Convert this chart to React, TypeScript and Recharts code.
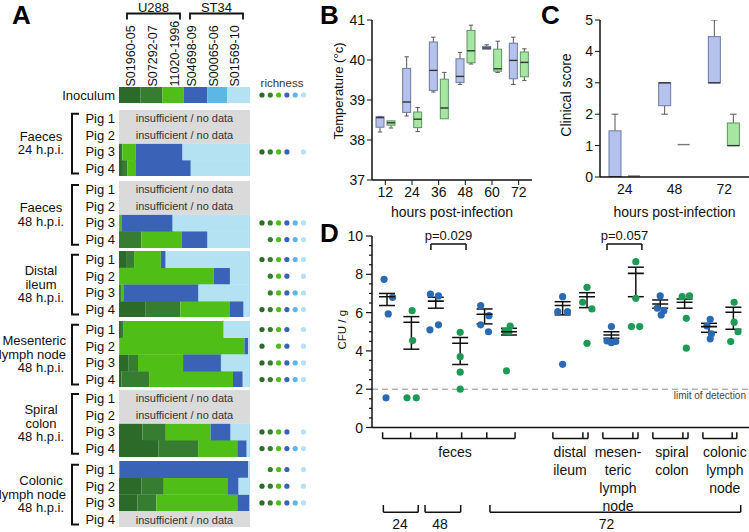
import React from 'react';
import {
  BarChart, Bar, XAxis, YAxis, ComposedChart, Scatter, ErrorBar,
  ReferenceLine, ReferenceDot, Label,
} from 'recharts';

const FONT = '"Liberation Sans", Arial, Helvetica, sans-serif';
const INK = '#111';

// ---------------- Panel A data ----------------
const strains = ['S01960-05', 'S07292-07', '11020-1996', 'S04698-09', 'S00065-06', 'S01569-10'];
const strainColors = ['#2c6a2a', '#367d32', '#4fbe17', '#3a63b7', '#5bb7e4', '#b4e2f2'];
const lineages = ['U288', 'ST34'];
const pigs = ['Pig 1', 'Pig 2', 'Pig 3', 'Pig 4'];
const noDataText = 'insufficient / no data';
const richnessTitle = 'richness';

const inoculumShares = [16.5, 16.5, 16.5, 17.8, 15.3, 17.4];
const inoculumRichness = [1, 1, 1, 1, 1, 1];

const sectionTitles = [
  ['Faeces', '24 h.p.i.'],
  ['Faeces', '48 h.p.i.'],
  ['Distal', 'ileum', '48 h.p.i.'],
  ['Mesenteric', 'lymph node', '48 h.p.i.'],
  ['Spiral', 'colon', '48 h.p.i.'],
  ['Colonic', 'lymph node', '48 h.p.i.'],
];

const faeces24Shares = [null, null, [1.5, 1.1, 10.2, 35.7, 0, 51.5], [3, 3.4, 6.1, 42.3, 0, 45.2]];
const faeces24Richness = [null, null, [1, 1, 1, 1, 0, 1], null];
const faeces48Shares = [null, null, [0.3, 0.3, 1.2, 39, 0.5, 58.7], [0, 17.1, 30.6, 19.6, 0.5, 32.2]];
const faeces48Richness = [null, null, [1, 1, 1, 1, 1, 1], [0, 1, 1, 1, 1, 1]];
const ileumShares = [[6, 5.5, 20.4, 3.6, 0.5, 64], [0, 0.5, 71.9, 12.3, 0, 15.3], [0, 1.5, 2.3, 56.6, 0.5, 39.1], [20, 26.9, 37.8, 10.2, 0.5, 4.6]];
const ileumRichness = [[1, 1, 1, 1, 1, 1], [0, 1, 1, 1, 0, 1], [0, 1, 1, 1, 1, 1], [1, 1, 1, 1, 1, 1]];
const mlnShares = [[1.5, 1.6, 76.5, 0.3, 0, 20.1], [0.3, 0, 95.4, 3.0, 0, 1.3], [7, 7.5, 34.4, 28.9, 0.5, 21.7], [2, 21, 64, 7.4, 0.5, 5.1]];
const mlnRichness = [[1, 1, 1, 1, 0, 1], [1, 0, 1, 1, 0, 1], [1, 1, 1, 1, 1, 1], [1, 1, 1, 1, 1, 1]];
const colonShares = [null, null, [18, 17.7, 34.2, 15.3, 0, 14.8], [30, 30.4, 29.9, 7.1, 0.5, 2.1]];
const colonRichness = [null, null, [1, 1, 1, 1, 0, 1], [1, 1, 1, 1, 1, 1]];
const clnShares = [[0, 0.2, 0.2, 98.3, 0, 1.3], [17, 17.2, 48.5, 8.6, 0, 8.7], [14, 14.6, 61.7, 9.2, 0.3, 0.2], null];
const clnRichness = [[0, 1, 1, 1, 0, 1], [1, 1, 1, 1, 0, 1], [1, 1, 1, 1, 1, 1], null];

const sectionShares = [faeces24Shares, faeces48Shares, ileumShares, mlnShares, colonShares, clnShares];
const sectionRichness = [faeces24Richness, faeces48Richness, ileumRichness, mlnRichness, colonRichness, clnRichness];

// ---------------- Panel B / C data ----------------
const tempHours = ['12', '24', '36', '48', '60', '72'];
// five-number summaries: [min, q1, median, q3, max]
const tempGroupA = [
  [38.2, 38.32, 38.56, 38.58, 38.59],
  [38.6, 38.69, 38.95, 39.79, 40.08],
  [39.2, 39.24, 39.74, 40.45, 40.57],
  [39.39, 39.44, 39.59, 40.03, 40.19],
  [40.27, 40.27, 40.3, 40.34, 40.38],
  [39.39, 39.53, 39.99, 40.42, 40.57],
];
const tempGroupB = [
  [38.3, 38.37, 38.43, 38.48, 38.48],
  [38.21, 38.31, 38.52, 38.7, 38.81],
  [38.53, 38.53, 38.8, 39.52, 39.69],
  [39.9, 39.93, 40.23, 40.74, 40.87],
  [39.69, 39.72, 39.78, 40.27, 40.47],
  [39.49, 39.58, 39.94, 40.2, 40.28],
];
const tempTicks = [37, 38, 39, 40, 41];

const scoreHours = ['24', '48', '72'];
const scoreGroupA = [
  [0, 0, 0, 1.47, 2],
  [2, 2.27, 3, 3, 3],
  [3, 3, 3, 4.47, 5],
];
const scoreGroupB = [
  [0, 0, 0, 0, 0],
  [1, 1, 1, 1, 1],
  [1, 1, 1, 1.72, 2],
];
const scoreTicks = [0, 1, 2, 3, 4, 5];

// ---------------- Panel D data ----------------
const cfuGroupPos = [1, 2, 3, 4, 5, 6, 8.2, 9.2, 10.2, 11.2, 12.2, 13.2, 14.2, 15.2];
const cfuValues = [
  [7.74, 6.8, 5.93, 1.55],
  [6.1, 4.54, 1.55, 1.55],
  [6.96, 6.87, 5.36, 5.1],
  [4.97, 3.7, 2.89, 2.0],
  [6.37, 5.84, 5.36, 5.0],
  [5.3, 5.04, 5.0, 2.96],
  [6.83, 6.05, 6.05, 3.3],
  [7.32, 6.54, 6.19, 4.4],
  [5.27, 4.52, 4.43, 4.49],
  [8.66, 6.75, 5.27, 5.27],
  [6.87, 6.23, 6.1, 5.88],
  [6.83, 6.87, 5.7, 4.14],
  [5.65, 5.3, 4.89, 4.63],
  [6.54, 5.5, 5.0, 4.49],
];
const cfuJitter = [
  [-0.12, 0.23, 0.05, -0.04],
  [0.03, 0.05, -0.18, 0.2],
  [-0.22, 0.11, 0.11, -0.24],
  [0, 0, 0, 0],
  [-0.16, 0.18, -0.16, 0.16],
  [0.05, -0.17, 0.0, -0.1],
  [0, -0.2, 0.2, 0],
  [0, -0.18, 0.2, 0],
  [0, -0.18, 0, 0.18],
  [0, 0, -0.18, 0.16],
  [0, -0.12, 0.15, 0.04],
  [-0.1, 0.2, 0.07, 0.07],
  [0.05, -0.08, 0.1, 0.05],
  [0.03, 0.03, 0.19, -0.11],
];
const cfuMean = [6.83, 5.5, 6.6, 4.4, 5.91, 5.0, 6.37, 6.83, 4.83, 8.05, 6.45, 6.54, 5.27, 6.02];
const cfuSemLow = [6.37, 4.09, 6.23, 3.29, 5.41, 4.83, 5.88, 6.26, 4.66, 6.83, 6.23, 6.23, 4.97, 5.13];
const cfuSemHigh = [7.0, 5.79, 6.8, 4.7, 6.19, 5.18, 6.57, 7.04, 5.0, 8.37, 6.66, 6.71, 5.44, 6.28];
const cfuTicks = [0, 0.5, 1, 1.5, 2, 2.5, 3, 3.5, 4, 4.5, 5, 5.5, 6, 6.5, 7, 7.5, 8, 8.5, 9, 9.5, 10];
const detectionLimit = 2;

const pValues = [
  { from: 2.8, to: 4.24, text: 'p=0.029' },
  { from: 10.02, to: 11.45, text: 'p=0.057' },
];
const tissueBrackets = [
  { from: 0.82, to: 6.25, ticks: [1.97, 3.04, 4.06, 5.09] },
  { from: 7.8, to: 9.24, ticks: [9.03] },
  { from: 9.85, to: 11.29, ticks: [11.08] },
  { from: 11.9, to: 13.34, ticks: [13.13] },
  { from: 13.95, to: 15.34, ticks: [15.15] },
];
const tissueLabels = [
  { x: 3.79, lines: ['feces'] },
  { x: 8.5, lines: ['distal', 'ileum'] },
  { x: 10.47, lines: ['mesen-', 'teric', 'lymph', 'node'] },
  { x: 12.68, lines: ['spiral', 'colon'] },
  { x: 14.85, lines: ['colonic', 'lymph', 'node'] },
];
const timeBrackets = [
  { from: 0.85, to: 2.28, text: '24', at: 1.53 },
  { from: 2.56, to: 4.02, text: '48', at: 3.17 },
  { from: 5.22, to: 15.5, text: '72', at: 10.0 },
];

// ---------------- helpers ----------------
function buildRows(labels: string[], shares: any[], rich: any[]) {
  return labels.map((p, i) => {
    const s = shares[i];
    const r: any = { pig: p, nd: s ? 0 : 100, rich: rich[i] };
    strains.forEach((_, k) => { r['s' + k] = s ? s[k] : 0; });
    return r;
  });
}

function makeLastShape(rows: any[]) {
  return (props: any) => {
    const { x, y, width, height, index, fill } = props;
    const row = (props.payload && props.payload.pig) ? props.payload : rows[index];
    const rich = row ? row.rich : null;
    return (
      <g>
        {width > 0 && <rect x={x} y={y} width={width} height={height} fill={fill} />}
        {rich && rich.map((r: number, i: number) => (r ? (
          <circle key={i} cx={x + width + 12 + i * 8.3} cy={y + height / 2} r={2.6} fill={strainColors[i]} />
        ) : null))}
      </g>
    );
  };
}

const NdShape = (props: any) => {
  const { x, y, width, height } = props;
  if (!width) return <g />;
  return (
    <g>
      <rect x={x} y={y} width={width} height={height} fill="#dadada" />
      <text x={x + width / 2} y={y + height / 2} textAnchor="middle" dominantBaseline="central" fontSize={11} fill="#333">{noDataText}</text>
    </g>
  );
};

function CompositionChart({ rows, top, height }: { rows: any[]; top: number; height: number }) {
  const LastShape = makeLastShape(rows);
  return (
    <div style={{ position: 'absolute', left: 0, top, width: 320, height }}>
      <BarChart width={320} height={height} data={rows} layout="vertical"
        margin={{ top: 0, right: 70, bottom: 0, left: 0 }} barCategoryGap={0}>
        <XAxis type="number" domain={[0, 100]} hide />
        <YAxis type="category" dataKey="pig" width={119} axisLine={false} tickLine={false}
          tickSize={0} tickMargin={4} interval={0} tick={{ fontSize: 13, fill: INK }} />
        {strains.map((s, k) => (
          <Bar key={s} dataKey={'s' + k} stackId="a" fill={strainColors[k]} isAnimationActive={false}
            shape={k === strains.length - 1 ? LastShape : undefined} />
        ))}
        <Bar dataKey="nd" stackId="a" fill="#dadada" isAnimationActive={false} shape={NdShape} />
      </BarChart>
    </div>
  );
}

const sectionTops = [109.7, 181, 250.7, 320.7, 390, 460.7];
const sectionHeight = 66.8;

function PanelA() {
  const inoRows = buildRows(['Inoculum'], [inoculumShares], [inoculumRichness]);
  return (
    <>
      <CompositionChart rows={inoRows} top={87.3} height={16} />
      {sectionShares.map((sh, i) => (
        <CompositionChart key={i} rows={buildRows(pigs, sh, sectionRichness[i])} top={sectionTops[i]} height={sectionHeight} />
      ))}
    </>
  );
}

function makeBox(key: string, fill: string, stroke: string) {
  return (props: any) => {
    const { x, y, width, height, payload } = props;
    const [mn, q1, med, q3, mx] = payload[key];
    const span = mx - mn;
    const py = (v: number) => (span > 0 ? y + ((mx - v) / span) * height : y);
    const cx = x + width / 2;
    const cap = width * 0.55;
    const top = py(q3);
    const bot = py(q1);
    const wc = '#555';
    return (
      <g>
        {mx > q3 && <line x1={cx} x2={cx} y1={py(mx)} y2={top} stroke={wc} strokeWidth={1} />}
        {mx > q3 && <line x1={cx - cap / 2} x2={cx + cap / 2} y1={py(mx)} y2={py(mx)} stroke={wc} strokeWidth={1} />}
        {q1 > mn && <line x1={cx} x2={cx} y1={bot} y2={py(mn)} stroke={wc} strokeWidth={1} />}
        {q1 > mn && <line x1={cx - cap / 2} x2={cx + cap / 2} y1={py(mn)} y2={py(mn)} stroke={wc} strokeWidth={1} />}
        <rect x={x} y={top} width={width} height={Math.max(bot - top, 0)} fill={fill} stroke={stroke} strokeWidth={1} />
        <line x1={x} x2={x + width} y1={py(med) - (span > 0 ? 0 : 1)} y2={py(med) - (span > 0 ? 0 : 1)} stroke={span > 0 ? '#333' : '#777'} strokeWidth={1.4} />
      </g>
    );
  };
}

const BLUE_FILL = '#b5c2ec';
const BLUE_STROKE = '#6c78a6';
const GREEN_FILL = '#a6e6a2';
const GREEN_STROKE = '#5e955e';
const BoxA = makeBox('a', BLUE_FILL, BLUE_STROKE);
const BoxB = makeBox('b', GREEN_FILL, GREEN_STROKE);

const VerticalTitle = (p: any) => {
  const vb = p.viewBox || {};
  const cx = vb.x + vb.width / 2 + (p.ox || 0);
  const cy = vb.y + vb.height / 2 + (p.oy || 0);
  return (
    <text transform={`translate(${cx},${cy}) rotate(-90)`} textAnchor="middle" dominantBaseline="central"
      fontSize={p.size} fill={INK}>{p.text}</text>
  );
};

function PanelB() {
  const rows = tempHours.map((h, i) => ({ h, a: tempGroupA[i], b: tempGroupB[i] }));
  return (
    <div style={{ position: 'absolute', left: 300, top: 0 }}>
      <BarChart width={240} height={225} data={rows} margin={{ top: 20, right: 8, bottom: 0, left: 0 }} barSize={8} barGap={3}>
        <XAxis dataKey="h" height={45} tickSize={5} tickLine={{ stroke: INK }} axisLine={{ stroke: INK, strokeWidth: 1.5 }}
          tick={{ fontSize: 14, fill: INK }} interval={0}>
          <Label value="hours post-infection" position="insideBottom" offset={8} fontSize={14} fill={INK} />
        </XAxis>
        <YAxis width={72} domain={[37, 41]} allowDataOverflow ticks={tempTicks} tickSize={5} tickLine={{ stroke: INK }}
          axisLine={{ stroke: INK, strokeWidth: 1.5 }} tick={{ fontSize: 14, fill: INK }} interval={0}>
          <Label content={(p: any) => <VerticalTitle viewBox={p.viewBox} text="Temperature (°c)" size={13} ox={2} oy={-9} />} />
        </YAxis>
        <Bar dataKey={(d: any) => [d.a[0], d.a[4]]} shape={BoxA} isAnimationActive={false} />
        <Bar dataKey={(d: any) => [d.b[0], d.b[4]]} shape={BoxB} isAnimationActive={false} />
      </BarChart>
    </div>
  );
}

function PanelC() {
  const rows = scoreHours.map((h, i) => ({ h, a: scoreGroupA[i], b: scoreGroupB[i] }));
  return (
    <div style={{ position: 'absolute', left: 530, top: 0 }}>
      <BarChart width={219} height={225} data={rows} margin={{ top: 20, right: 0, bottom: 0, left: 0 }} barSize={12} barGap={7}>
        <XAxis dataKey="h" height={48} tickSize={5} tickLine={false} axisLine={{ stroke: INK, strokeWidth: 1.5 }}
          tick={{ fontSize: 14, fill: INK }} interval={0}>
          <Label value="hours post-infection" position="insideBottom" offset={8} fontSize={14} fill={INK} />
        </XAxis>
        <YAxis width={70} domain={[0, 5]} allowDataOverflow ticks={scoreTicks} tickSize={5} tickLine={{ stroke: INK }}
          axisLine={{ stroke: INK, strokeWidth: 1.5 }} tick={{ fontSize: 14, fill: INK }} interval={0}>
          <Label content={(p: any) => <VerticalTitle viewBox={p.viewBox} text="Clinical score" size={14} ox={1} oy={-3.5} />} />
        </YAxis>
        <Bar dataKey={(d: any) => [d.a[0], d.a[4]]} shape={BoxA} isAnimationActive={false} />
        <Bar dataKey={(d: any) => [d.b[0], d.b[4]]} shape={BoxB} isAnimationActive={false} />
      </BarChart>
    </div>
  );
}

const CfuTick = (props: any) => {
  const { x, y, payload } = props;
  const v = payload.value;
  const major = v % 2 === 0;
  return (
    <g>
      <line x1={x - (major ? 6 : 3)} x2={x} y1={y} y2={y} stroke={INK} strokeWidth={1.2} />
      {major && <text x={x - 9} y={y} textAnchor="end" dominantBaseline="central" fontSize={14} fill={INK}>{v}</text>}
    </g>
  );
};

const BLUE_DOT = '#2a6ab5';
const GREEN_DOT = '#1e9a56';
const dotShape = (color: string) => (p: any) => <circle cx={p.cx} cy={p.cy} r={3.6} fill={color} />;
const MeanShape = (p: any) => <line x1={p.cx - 8} x2={p.cx + 8} y1={p.cy} y2={p.cy} stroke={INK} strokeWidth={1.6} />;

const SEG = { stroke: INK, strokeWidth: 1.5, ifOverflow: 'visible' as const };

function PanelD() {
  const ptsA: any[] = [];
  const ptsB: any[] = [];
  cfuValues.forEach((vals, g) => vals.forEach((v, i) => {
    (g % 2 === 0 ? ptsA : ptsB).push({ x: cfuGroupPos[g] + cfuJitter[g][i], y: v });
  }));
  const means = cfuMean.map((m, g) => ({ x: cfuGroupPos[g], y: m, err: [m - cfuSemLow[g], cfuSemHigh[g] - m] }));

  const lines: any[] = [];
  let k = 0;
  pValues.forEach((p) => {
    lines.push(<ReferenceLine key={k++} segment={[{ x: p.from, y: 9.58 }, { x: p.to, y: 9.58 }]} {...SEG} />);
    lines.push(<ReferenceLine key={k++} segment={[{ x: p.from, y: 9.58 }, { x: p.from, y: 9.27 }]} {...SEG} />);
    lines.push(<ReferenceLine key={k++} segment={[{ x: p.to, y: 9.58 }, { x: p.to, y: 9.27 }]} {...SEG} />);
    lines.push(<ReferenceDot key={k++} x={(p.from + p.to) / 2} y={10.05} r={0} fill="none" stroke="none" ifOverflow="visible"
      label={{ value: p.text, position: 'center', fontSize: 13, fill: INK }} />);
  });
  tissueBrackets.forEach((b) => {
    lines.push(<ReferenceLine key={k++} segment={[{ x: b.from, y: -0.58 }, { x: b.to, y: -0.58 }]} {...SEG} />);
    [b.from, b.to, ...b.ticks].forEach((t) => {
      lines.push(<ReferenceLine key={k++} segment={[{ x: t, y: -0.25 }, { x: t, y: -0.58 }]} {...SEG} />);
    });
  });
  tissueLabels.forEach((t) => {
    const ys = [-1.28, -2.22, -3.16, -4.1];
    t.lines.forEach((ln, i) => {
      lines.push(<ReferenceDot key={k++} x={t.x} y={ys[i]} r={0} fill="none" stroke="none" ifOverflow="visible"
        label={{ value: ln, position: 'center', fontSize: 14, fill: INK }} />);
    });
  });
  timeBrackets.forEach((b) => {
    lines.push(<ReferenceLine key={k++} segment={[{ x: b.from, y: -4.42 }, { x: b.to, y: -4.42 }]} {...SEG} />);
    lines.push(<ReferenceLine key={k++} segment={[{ x: b.from, y: -4.05 }, { x: b.from, y: -4.42 }]} {...SEG} />);
    lines.push(<ReferenceLine key={k++} segment={[{ x: b.to, y: -4.05 }, { x: b.to, y: -4.42 }]} {...SEG} />);
    lines.push(<ReferenceDot key={k++} x={b.at} y={-5.02} r={0} fill="none" stroke="none" ifOverflow="visible"
      label={{ value: b.text, position: 'center', fontSize: 14, fill: INK }} />);
  });

  return (
    <div style={{ position: 'absolute', left: 300, top: 226 }}>
      <ComposedChart width={449} height={306} margin={{ top: 10, right: 0, bottom: 74.5, left: 0 }}>
        <XAxis type="number" dataKey="x" domain={[0.385, 15.84]} allowDataOverflow height={30} tick={false} tickLine={false}
          axisLine={{ stroke: INK, strokeWidth: 1.5 }} />
        <YAxis type="number" dataKey="y" width={72} domain={[0, 10]} allowDataOverflow ticks={cfuTicks} interval={0}
          tickSize={0} tickMargin={0} tickLine={false} tick={CfuTick} axisLine={{ stroke: INK, strokeWidth: 1.5 }}>
          <Label content={(p: any) => <VerticalTitle viewBox={p.viewBox} text="CFU / g" size={11.5} ox={6} oy={-2} />} />
        </YAxis>
        <ReferenceLine y={detectionLimit} stroke="#8c8c8c" strokeDasharray="6 4"
          label={{ value: 'limit of detection', position: 'insideTopRight', offset: 3, fontSize: 10, fill: '#444' }} />
        {lines}
        <Scatter data={ptsA} shape={dotShape(BLUE_DOT)} isAnimationActive={false} />
        <Scatter data={ptsB} shape={dotShape(GREEN_DOT)} isAnimationActive={false} />
        <Scatter data={means} shape={MeanShape} isAnimationActive={false}>
          <ErrorBar dataKey="err" direction="y" width={8} stroke={INK} strokeWidth={1.5} />
        </Scatter>
      </ComposedChart>
    </div>
  );
}

const columnLabelX = [131, 153, 175, 192, 213.5, 235];
const lineageSpans = [[127, 180], [190, 243]];

function Overlay() {
  return (
    <svg width={749} height={532} style={{ position: 'absolute', left: 0, top: 0, pointerEvents: 'none' }}>
      <g fontWeight="bold" fontSize={26} fill="#000">
        <text x={12} y={23.5}>A</text>
        <text x={320} y={23.5}>B</text>
        <text x={541} y={23.5}>C</text>
        <text x={320} y={242}>D</text>
      </g>
      {lineages.map((l, i) => {
        const [a, b] = lineageSpans[i];
        return (
          <g key={l}>
            <text x={(a + b) / 2} y={11.5} textAnchor="middle" fontSize={13} fill={INK}>{l}</text>
            <path d={`M${a},19.5 V13.5 H${b} V19.5`} stroke={INK} strokeWidth={1.8} fill="none" />
          </g>
        );
      })}
      {strains.map((s, i) => (
        <text key={s} transform={`translate(${columnLabelX[i]},86.5) rotate(-90)`} dominantBaseline="central"
          fontSize={12.5} fill={INK}>{s}</text>
      ))}
      <text x={282} y={87} textAnchor="middle" fontSize={11.5} fill="#333">{richnessTitle}</text>
      {sectionTitles.map((lines, i) => {
        const top = sectionTops[i];
        const bottom = top + sectionHeight;
        const c = top + sectionHeight / 2;
        return (
          <g key={i}>
            <path d={`M79,${top + 4} H72 V${bottom - 3} H79`} stroke={INK} strokeWidth={2} fill="none" />
            {lines.map((ln, j) => {
              const long = ln.length >= 10;
              return (
                <text key={j} x={long ? 66 : 41} y={c + (j - (lines.length - 1) / 2) * 13.5}
                  textAnchor={long ? 'end' : 'middle'} dominantBaseline="central" fontSize={13} fill={INK}>{ln}</text>
              );
            })}
          </g>
        );
      })}
    </svg>
  );
}

export default function App() {
  return (
    <div style={{ position: 'absolute', left: 0, top: 0, width: 749, height: 532, background: '#fff', fontFamily: FONT, overflow: 'hidden' }}>
      <PanelA />
      <PanelB />
      <PanelC />
      <PanelD />
      <Overlay />
    </div>
  );
}
